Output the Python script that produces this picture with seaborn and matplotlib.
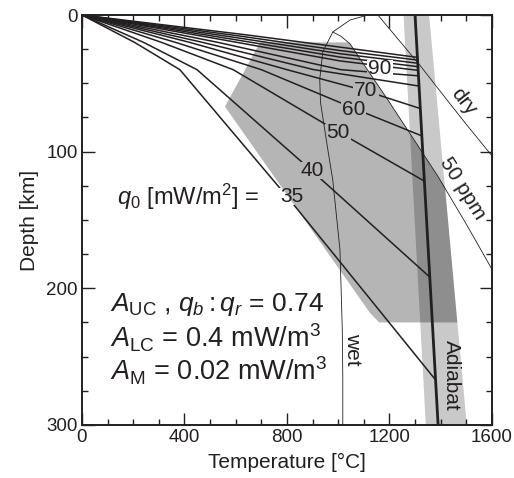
import matplotlib
matplotlib.use("Agg")
import matplotlib.pyplot as plt
import pandas as pd
import seaborn as sns
from matplotlib.patches import Polygon
from matplotlib.path import Path
from matplotlib.ticker import MultipleLocator
from matplotlib.transforms import IdentityTransform

sns.set_style("ticks")
plt.rcParams["font.family"] = ["Liberation Sans", "DejaVu Sans"]
plt.rcParams["mathtext.fontset"] = "custom"
plt.rcParams["mathtext.rm"] = "Liberation Sans"
plt.rcParams["mathtext.it"] = "Liberation Sans:italic"
plt.rcParams["mathtext.bf"] = "Liberation Sans:bold"
INK = "#231f20"

# ---- geotherms: surface heat flow q0 [mW/m^2], temperature [degC], depth [km]
q0_values = [35, 40, 50, 60, 70, 80, 90, 100, 110, 120, 130, 140]
geotherm_temp = [
    [0, 205, 382, 810, 1380],
    [0, 240, 449, 897, 1357],
    [0, 310, 590, 1005, 1336],
    [0, 365, 700, 1070, 1327],
    [0, 420, 800, 1108, 1320],
    [0, 470, 905, 1316],
    [0, 530, 1010, 1313],
    [0, 560, 1007, 1312],
    [0, 580, 1007, 1311],
    [0, 600, 1007, 1311],
    [0, 620, 1007, 1310],
    [0, 640, 1007, 1309],
]
geotherm_depth = [
    [0, 20, 40, 135, 267],
    [0, 20, 40, 114, 191.7],
    [0, 20, 40, 86, 121.5],
    [0, 20, 40, 69, 88.5],
    [0, 20, 40, 55.6, 68.4],
    [0, 20, 40, 52],
    [0, 20, 40, 44.5],
    [0, 18.5, 33.6, 40.5],
    [0, 17.5, 30.8, 37.8],
    [0, 16.5, 28.3, 35.3],
    [0, 15.5, 26.0, 33.0],
    [0, 14.5, 23.5, 31.0],
]
labelled_q0 = [35, 40, 50, 60, 70, 90]

# ---- mantle adiabat and its uncertainty band
adiabat_temp = [1300, 1390]
adiabat_depth = [0, 300]
band_temp = [1255, 1355, 1502, 1342]
band_depth = [0, 0, 300, 300]

# ---- peridotite solidi
wet_temp = [1116, 1046, 979, 940, 928, 931, 960, 979, 1007, 1016, 1018, 1018]
wet_depth = [0, 3.7, 12.4, 27, 47, 64, 99, 121, 172, 230, 265, 300]
dry_temp = [1155, 1320, 1424, 1500, 1600]
dry_depth = [0, 37, 62, 80, 103]
ppm50_temp = [979, 1010, 1046, 1085, 1190, 1288, 1389, 1500, 1600]
ppm50_depth = [12.4, 15.5, 21, 32, 61, 89, 118, 153, 186]

# ---- xenolith P-T field
field_temp = [695, 1043, 1085, 1190, 1288, 1389, 1417, 1465, 1160, 1124, 558]
field_depth = [20, 20, 32, 61, 89, 118, 126, 225, 225, 218, 67]

geo = pd.DataFrame(
    [(q, t, z) for q, ts, zs in zip(q0_values, geotherm_temp, geotherm_depth)
     for t, z in zip(ts, zs)],
    columns=["q0", "T", "z"],
)

fig = plt.figure(figsize=(5.14, 4.78), dpi=100)
ax = fig.add_axes([0.1595, 0.111, 0.7975, 0.8576])

ax.add_patch(Polygon(list(zip(band_temp, band_depth)), closed=True,
                     facecolor="black", alpha=0.21, lw=0, zorder=1))
ax.add_patch(Polygon(list(zip(field_temp, field_depth)), closed=True,
                     facecolor="black", alpha=0.29, lw=0, zorder=1))

thin = dict(color=INK, lw=0.6, sort=False, estimator=None, zorder=3)
sns.lineplot(x=wet_temp, y=wet_depth, ax=ax, **thin)
sns.lineplot(x=dry_temp, y=dry_depth, ax=ax, **thin)
sns.lineplot(x=ppm50_temp, y=ppm50_depth, ax=ax, **thin)

n_before = len(ax.lines)
sns.lineplot(data=geo, x="T", y="z", units="q0", estimator=None, sort=False,
             color=INK, lw=1.1, ax=ax, zorder=4)
geotherm_lines = ax.lines[n_before:]
sns.lineplot(x=adiabat_temp, y=adiabat_depth, color=INK, lw=2.0,
             sort=False, estimator=None, ax=ax, zorder=5)

ax.set_xlim(0, 1600)
ax.set_ylim(300, 0)
ax.xaxis.set_major_locator(MultipleLocator(400))
ax.xaxis.set_minor_locator(MultipleLocator(100))
ax.yaxis.set_major_locator(MultipleLocator(100))
ax.yaxis.set_minor_locator(MultipleLocator(25))
ax.tick_params(which="both", direction="in", top=True, right=True,
               colors=INK, labelsize=13.5, width=1.0)
ax.tick_params(which="major", length=9, pad=3)
ax.tick_params(which="minor", length=4.5)
for sp in ax.spines.values():
    sp.set_linewidth(1.4)
    sp.set_color(INK)
ax.set_xlabel("Temperature [°C]", fontsize=15, color=INK, labelpad=5)
ax.set_ylabel("Depth [km]", fontsize=15, color=INK, labelpad=5)

# heat-flow labels on the geotherms
label_pos = {35: (819, 133), 40: (897, 114), 50: (999, 86),
             60: (1061, 69.5), 70: (1108, 55.6), 90: (1163, 39.5)}
q_labels = []
for q in labelled_q0:
    x, y = label_pos[q]
    q_labels.append(ax.text(x, y, str(q), fontsize=15, color=INK,
                            ha="center", va="center", zorder=6))
ax.text(137, 133, r"$q_0$ [mW/m$^2$] =", fontsize=17, color=INK,
        ha="left", va="center")

ax.text(1490, 63, "dry", fontsize=15, color=INK, rotation=-52,
        ha="center", va="center", rotation_mode="anchor")
ax.text(1487, 127, "50 ppm", fontsize=15, color=INK, rotation=-58,
        ha="center", va="center", rotation_mode="anchor")
ax.text(1057, 245, "wet", fontsize=15, color=INK, rotation=-90,
        ha="center", va="center")
ax.text(1444, 264, "Adiabat", fontsize=15, color=INK, rotation=-90,
        ha="center", va="center", zorder=6)

ax.text(109, 212, r"$A_{\rm UC}$ , $q_b : q_r$ = 0.74", fontsize=19,
        color=INK, ha="left", va="center")
ax.text(109, 236, r"$A_{\rm LC}$ = 0.4 mW/m$^3$", fontsize=19.5,
        color=INK, ha="left", va="center")
ax.text(109, 260.5, r"$A_{\rm M}$ = 0.02 mW/m$^3$", fontsize=19.5,
        color=INK, ha="left", va="center")

# open a gap in the geotherms behind each heat-flow label
fig.canvas.draw()
renderer = fig.canvas.get_renderer()
W, H = fig.bbox.width, fig.bbox.height
verts = [(0, 0), (W, 0), (W, H), (0, H), (0, 0)]
codes = [Path.MOVETO, Path.LINETO, Path.LINETO, Path.LINETO, Path.CLOSEPOLY]
for t in q_labels:
    bb = t.get_window_extent(renderer)
    x0, x1 = bb.x0 - 1, bb.x1 + 1
    y0, y1 = bb.y0 + 1, bb.y1 - 1
    verts += [(x0, y0), (x0, y1), (x1, y1), (x1, y0), (x0, y0)]
    codes += [Path.MOVETO, Path.LINETO, Path.LINETO, Path.LINETO,
              Path.CLOSEPOLY]
gap_path = Path(verts, codes)
for ln in geotherm_lines:
    ln.set_clip_path(gap_path, IdentityTransform())

fig.savefig("out.png", dpi=100)
